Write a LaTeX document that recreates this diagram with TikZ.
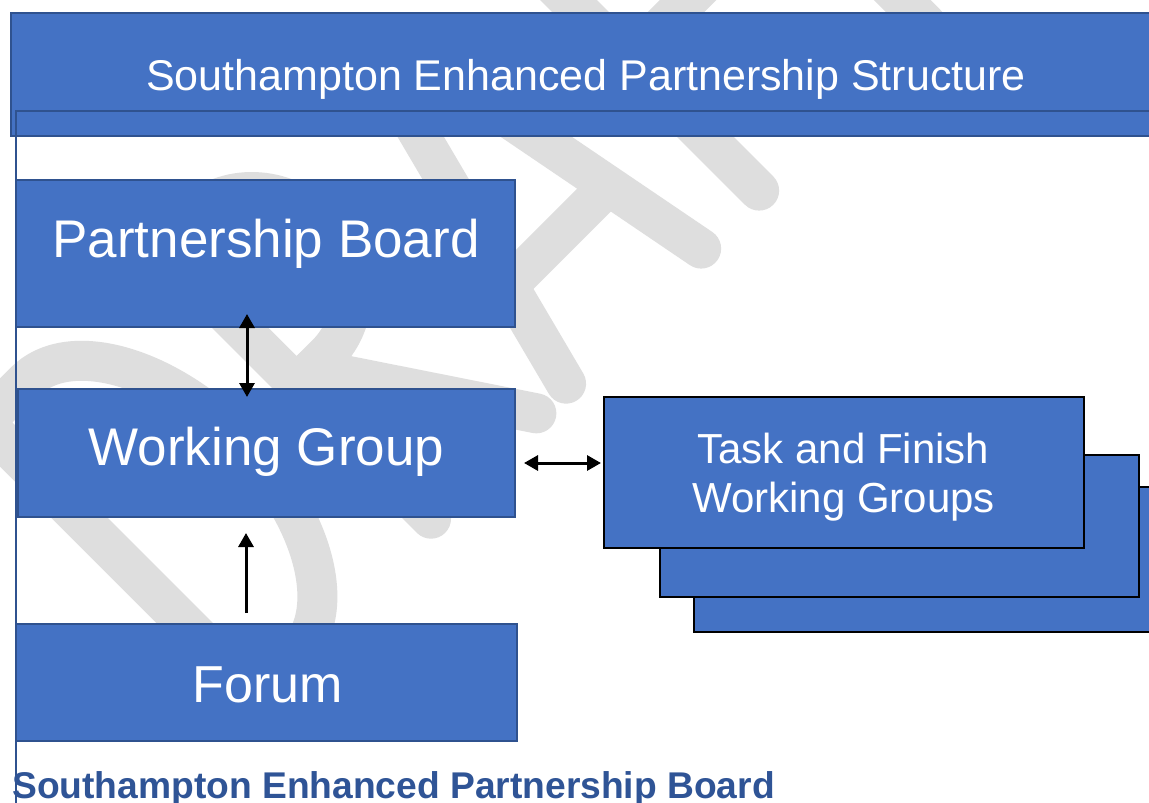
\documentclass[tikz,border=0pt]{standalone}
\usepackage{fontspec}
\setmainfont{Liberation Sans}
\usetikzlibrary{arrows.meta}
\definecolor{boxblue}{HTML}{4472C4}
\definecolor{edgeblue}{HTML}{2F528F}
\definecolor{capblue}{HTML}{2F5496}
\definecolor{wmgray}{RGB}{222,222,222}
\begin{document}
\begin{tikzpicture}[x=1pt,y=-1pt,
  box/.style={draw=edgeblue, fill=boxblue, line width=1.5pt, rectangle, inner sep=0pt, outer sep=0pt},
  tbox/.style={draw=black, fill=boxblue, line width=1.5pt, rectangle, inner sep=0pt, outer sep=0pt},
  wtxt/.style={text=white, inner sep=0pt, anchor=base},
  wmstroke/.style={draw=wmgray, line width=40pt, line cap=round, line join=round},
  arrtwo/.style={line width=3pt, {Triangle[length=14pt,width=15pt]}-{Triangle[length=14pt,width=15pt]}},
  arrone/.style={line width=3pt, -{Triangle[length=14pt,width=15pt]}}]
\useasboundingbox (0,0) rectangle (1149,803);
\clip (0,0) rectangle (1149,803);
\fill[white] (0,0) rectangle (1149,803);
% watermark DRAFT
\begin{scope}[shift={(489,489)}, rotate=45, x=1pt, y=1pt]
  \draw[wmstroke] (-310,20) -- (-310,404) -- (-252,404) arc[start angle=90, end angle=-90, x radius=110, y radius=192] -- cycle;
  \draw[wmstroke] (-62,20) -- (-62,404) -- (-20,404) arc[start angle=90, end angle=-90, x radius=91, y radius=97] -- (-62,210);
  \draw[wmstroke] (-40,210) -- (87,20);
  \draw[wmstroke] (129,20) -- (226,395) -- (248,395) -- (320,20);
  \draw[wmstroke] (157,130) -- (298,130);
  \draw[wmstroke] (402,20) -- (402,405) -- (560,405);
  \draw[wmstroke] (402,205) -- (540,205);
  \draw[wmstroke] (638,20) -- (638,405);
  \draw[wmstroke] (520,405) -- (770,405);
\end{scope}
% header
\node[box, minimum width=1160pt, minimum height=123pt] (hdr) at (591,74.5) {};
\node[wtxt, font=\fontsize{43pt}{50pt}\selectfont] (hdrtxt) at (586,90) {Southampton Enhanced Partnership Structure};
\draw[edgeblue, line width=1.5pt] (16,820) -- (16,111) -- (1175,111);
% left boxes
\node[box, minimum width=499pt, minimum height=147pt] (pb) at (265.5,253.5) {};
\node[wtxt, font=\fontsize{53pt}{60pt}\selectfont] (pbtxt) at (266,257) {Partnership Board};
\node[box, minimum width=497pt, minimum height=128pt] (wg) at (266.5,453) {};
\node[wtxt, font=\fontsize{53pt}{60pt}\selectfont] (wgtxt) at (266.5,465) {Working Group};
\node[box, minimum width=501pt, minimum height=117pt] (fo) at (266.5,682.5) {};
\node[wtxt, font=\fontsize{52pt}{60pt}\selectfont] (fotxt) at (267.5,702) {Forum};
% task and finish stack
\node[tbox, minimum width=480pt, minimum height=145pt] (t3) at (934,559.5) {};
\node[tbox, minimum width=479pt, minimum height=142pt] (t2) at (899.5,526) {};
\node[tbox, minimum width=480pt, minimum height=151pt] (t1) at (844,472.5) {};
\node[wtxt, font=\fontsize{42pt}{49pt}\selectfont] (t1a) at (843.5,463) {Task and Finish};
\node[wtxt, font=\fontsize{42pt}{49pt}\selectfont] (t1b) at (843.5,512) {Working Groups};
% connectors
\coordinate (cx1) at (247,0);
\coordinate (cx2) at (246,0);
\coordinate (cy3) at (0,463);
\draw[arrtwo, shorten <=-13pt, shorten >=-8pt] (pb.south -| cx1) -- (wg.north -| cx1);
\draw[arrone, shorten <=11pt, shorten >=16pt] (fo.north -| cx2) -- (wg.south -| cx2);
\draw[arrtwo, shorten <=9pt, shorten >=3pt] (wg.east |- cy3) -- (t1.west |- cy3);
% caption
\node[anchor=base west, inner sep=0pt, text=capblue, font=\bfseries\fontsize{37.2pt}{42pt}\selectfont] (cap) at (12,798) {Southampton Enhanced Partnership Board};
\end{tikzpicture}
\end{document}
